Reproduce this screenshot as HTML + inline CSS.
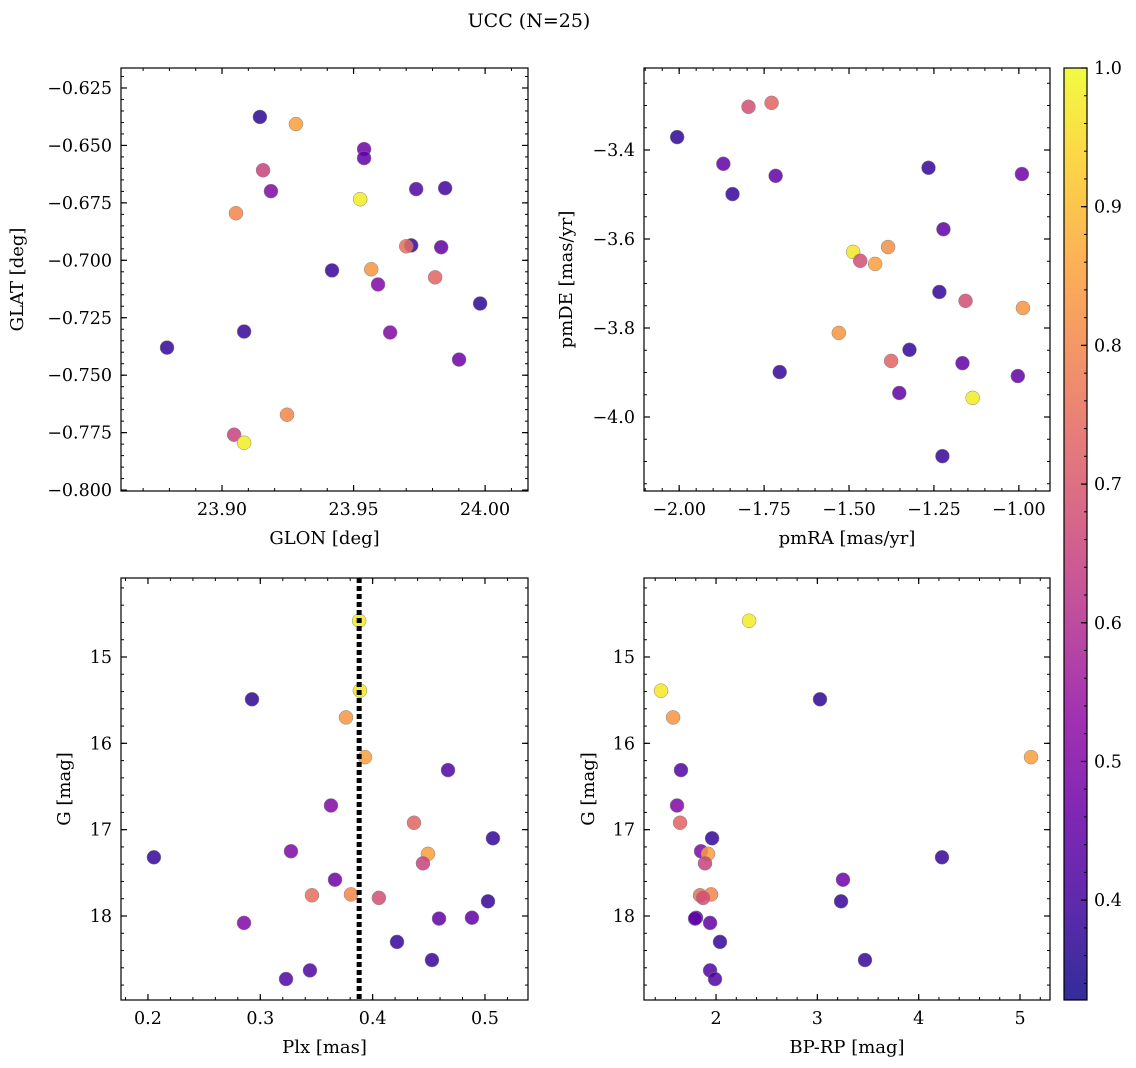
<!DOCTYPE html>
<html><head><meta charset="utf-8"><style>
body{margin:0;background:#fff;}
svg{display:block;font-family:"DejaVu Serif","Liberation Serif",serif;font-stretch:normal;}
</style></head><body>
<svg id="fig" width="1136" height="1068" viewBox="0 0 1136 1068">
<text x="529" y="27" font-size="19" text-anchor="middle">UCC (N=25)</text>
</svg>
<script>
// ---- data ----
const glon=[23.9144,23.9281,23.9156,23.9186,23.9053,23.9540,23.9540,23.9525,23.9738,23.9848,23.9719,23.9700,23.9833,23.9418,23.9567,23.9593,23.9810,23.9981,23.9084,23.9639,23.8791,23.9901,23.9247,23.9046,23.9084];
const glat=[-0.6376,-0.6407,-0.6608,-0.6699,-0.6795,-0.6516,-0.6555,-0.6734,-0.6690,-0.6686,-0.6935,-0.6939,-0.6943,-0.7044,-0.7039,-0.7105,-0.7074,-0.7188,-0.7310,-0.7314,-0.7380,-0.7432,-0.7672,-0.7759,-0.7794];
const probTL=[0.37,0.85,0.65,0.5,0.8,0.47,0.45,0.98,0.42,0.4,0.38,0.75,0.45,0.38,0.83,0.5,0.73,0.37,0.38,0.5,0.38,0.47,0.8,0.65,0.98];
const pmra=[-2.006,-1.796,-1.728,-1.870,-1.843,-1.716,-1.266,-0.991,-1.222,-1.488,-1.385,-1.467,-1.423,-1.234,-1.157,-0.988,-1.530,-1.322,-1.376,-1.704,-1.166,-1.003,-1.352,-1.136,-1.225];
const pmde=[-3.371,-3.303,-3.294,-3.431,-3.499,-3.458,-3.440,-3.454,-3.578,-3.629,-3.618,-3.649,-3.656,-3.719,-3.739,-3.755,-3.811,-3.849,-3.874,-3.899,-3.879,-3.908,-3.946,-3.957,-4.088];
const probTR=[0.37,0.68,0.73,0.45,0.38,0.45,0.38,0.47,0.45,0.97,0.82,0.68,0.85,0.38,0.68,0.83,0.83,0.38,0.73,0.38,0.45,0.45,0.45,0.98,0.38];
const plx=[0.388,0.2926,0.3887,0.3763,0.3932,0.4671,0.3629,0.4368,0.5071,0.2053,0.3273,0.4493,0.4448,0.3665,0.346,0.3807,0.4056,0.5027,0.2855,0.4591,0.4884,0.4217,0.4528,0.3442,0.3229];
const gmag=[14.58,15.49,15.39,15.70,16.16,16.31,16.72,16.92,17.10,17.32,17.25,17.28,17.39,17.58,17.76,17.75,17.79,17.83,18.08,18.03,18.02,18.30,18.51,18.63,18.73];
const probBL=[0.98,0.37,0.97,0.83,0.85,0.42,0.5,0.73,0.38,0.38,0.5,0.85,0.65,0.47,0.75,0.8,0.68,0.38,0.5,0.45,0.45,0.38,0.38,0.42,0.42];
const bprp=[2.326,1.457,1.576,3.026,5.109,1.654,1.615,1.645,1.961,1.852,1.921,1.891,4.230,3.253,1.842,1.951,1.872,3.234,1.803,1.793,1.941,2.039,3.470,1.941,1.990];
const gmag2=[14.58,15.39,15.70,15.49,16.16,16.31,16.72,16.92,17.10,17.25,17.28,17.39,17.32,17.58,17.76,17.75,17.79,17.83,18.02,18.03,18.08,18.30,18.51,18.63,18.73];
const probBR=[0.98,0.97,0.83,0.37,0.85,0.42,0.5,0.73,0.38,0.5,0.85,0.65,0.38,0.47,0.75,0.8,0.68,0.38,0.4,0.45,0.45,0.38,0.38,0.42,0.42];
const plxMedian=0.388;
const cbarMin=0.328, cbarMax=1.0;
const cbarTicks=[0.4,0.5,0.6,0.7,0.8,0.9,1.0];

const NS="http://www.w3.org/2000/svg";
const svg=document.getElementById('fig');
const stops=["#0d0887","#41049d","#6a00a8","#8f0da4","#b12a90","#cc4778","#e16462","#f2844b","#fca636","#fcce25","#f0f921"];
function hex(h){return [1,3,5].map(i=>parseInt(h.substr(i,2),16));}
function plasma(t){t=Math.max(0,Math.min(1,t));const f=t*10,i=Math.min(9,Math.floor(f)),r=f-i;const a=hex(stops[i]),b=hex(stops[i+1]);return "rgb("+a.map((v,k)=>Math.round(v+(b[k]-v)*r)).join(",")+")";}
function cm(v){return plasma((v-cbarMin)/(cbarMax-cbarMin));}
function el(tag,attrs,parent){const e=document.createElementNS(NS,tag);for(const k in attrs)e.setAttribute(k,attrs[k]);(parent||svg).appendChild(e);return e;}
function range(a,b,s){const r=[];for(let v=a;v<=b+s*1e-6;v+=s)r.push(+v.toFixed(6));return r;}
const TF=17.5, LF=18;

function panel(o){
  const g=el('g',{});
  
  
  const X=v=>o.x0+(v-o.xmin)/(o.xmax-o.xmin)*(o.x1-o.x0);
  const Y=o.yinv?(v=>o.y0+(v-o.ymin)/(o.ymax-o.ymin)*(o.y1-o.y0)):(v=>o.y1-(v-o.ymin)/(o.ymax-o.ymin)*(o.y1-o.y0));
  const inX=v=>v>=Math.min(o.xmin,o.xmax)-1e-9&&v<=Math.max(o.xmin,o.xmax)+1e-9;
  const inY=v=>v>=o.ymin-1e-9&&v<=o.ymax+1e-9;
  range(o.xmn[0],o.xmn[1],o.xmn[2]).filter(inX).forEach(v=>{const x=X(v);el('line',{x1:x,x2:x,y1:o.y1,y2:o.y1-3,stroke:'#000','stroke-width':1},g);el('line',{x1:x,x2:x,y1:o.y0,y2:o.y0+3,stroke:'#000','stroke-width':1},g);});
  range(o.ymn[0],o.ymn[1],o.ymn[2]).filter(inY).forEach(v=>{const y=Y(v);el('line',{x1:o.x0,x2:o.x0+3,y1:y,y2:y,stroke:'#000','stroke-width':1},g);el('line',{x1:o.x1,x2:o.x1-3,y1:y,y2:y,stroke:'#000','stroke-width':1},g);});
  o.xt.forEach((v,i)=>{const x=X(v);el('line',{x1:x,x2:x,y1:o.y1,y2:o.y1-6,stroke:'#000','stroke-width':1.2},g);el('line',{x1:x,x2:x,y1:o.y0,y2:o.y0+6,stroke:'#000','stroke-width':1.2},g);
    const t=el('text',{x:x,y:o.y1+24,'font-size':TF,'text-anchor':'middle'},g);t.textContent=o.xl[i];
    
    });
  o.yt.forEach((v,i)=>{const y=Y(v);el('line',{x1:o.x0,x2:o.x0+6,y1:y,y2:y,stroke:'#000','stroke-width':1.2},g);el('line',{x1:o.x1,x2:o.x1-6,y1:y,y2:y,stroke:'#000','stroke-width':1.2},g);
    const t=el('text',{x:o.x0-9,y:y+6,'font-size':TF,'text-anchor':'end'},g);t.textContent=o.yl[i];
    
    });
  o.xs.forEach((v,i)=>{const c=el('circle',{cx:X(v),cy:Y(o.ys[i]),r:7,fill:cm(o.c[i]),'fill-opacity':0.85,stroke:'#888','stroke-width':0.5},g);
    
    });
  if(o.vline!==undefined){const x=X(o.vline);const l=el('line',{x1:x,x2:x,y1:o.y0,y2:o.y1,stroke:'#000','stroke-width':5,'stroke-dasharray':'5,3'},g);
    
    }
  el('rect',{x:o.x0,y:o.y0,width:o.x1-o.x0,height:o.y1-o.y0,fill:'none',stroke:'#000','stroke-width':1.2},g);
  const xl=el('text',{x:(o.x0+o.x1)/2,y:o.y1+53,'font-size':LF,'text-anchor':'middle'},g);xl.textContent=o.xlab;
  
  
  const yx=o.ylx,yy=(o.y0+o.y1)/2;
  const yl=el('text',{x:yx,y:yy,'font-size':LF,'text-anchor':'middle',transform:`rotate(-90 ${yx} ${yy})`},g);yl.textContent=o.ylab;
  
  
}
panel({name:'glon-glat-panel',x0:121,x1:528,y0:68,y1:491,xmin:23.8616,xmax:24.0163,ymin:-0.8004,ymax:-0.6163,
  xt:[23.90,23.95,24.00],xl:['23.90','23.95','24.00'],xmn:[23.87,24.02,0.01],
  yt:[-0.625,-0.65,-0.675,-0.7,-0.725,-0.75,-0.775,-0.8],yl:['\u22120.625','\u22120.650','\u22120.675','\u22120.700','\u22120.725','\u22120.750','\u22120.775','\u22120.800'],ymn:[-0.8,-0.62,0.005],
  xs:glon,ys:glat,c:probTL,xlab:'GLON [deg]',ylab:'GLAT [deg]',ylx:23});
panel({name:'pm-panel',x0:644,x1:1050,y0:68,y1:491,xmin:-2.1036,xmax:-0.9083,ymin:-4.1663,ymax:-3.2157,
  xt:[-2,-1.75,-1.5,-1.25,-1],xl:['\u22122.00','\u22121.75','\u22121.50','\u22121.25','\u22121.00'],xmn:[-2.1,-0.9,0.05],
  yt:[-3.4,-3.6,-3.8,-4.0],yl:['\u22123.4','\u22123.6','\u22123.8','\u22124.0'],ymn:[-4.15,-3.25,0.05],
  xs:pmra,ys:pmde,c:probTR,xlab:'pmRA [mas/yr]',ylab:'pmDE [mas/yr]',ylx:572});
panel({name:'plx-g-panel',x0:121,x1:528,y0:578,y1:1000,xmin:0.176,xmax:0.5383,ymin:14.085,ymax:18.973,yinv:true,
  xt:[0.2,0.3,0.4,0.5],xl:['0.2','0.3','0.4','0.5'],xmn:[0.18,0.54,0.02],
  yt:[15,16,17,18],yl:['15','16','17','18'],ymn:[14.2,18.8,0.2],
  xs:plx,ys:gmag,c:probBL,vline:plxMedian,xlab:'Plx [mas]',ylab:'G [mag]',ylx:70});
panel({name:'cmd-panel',x0:644,x1:1050,y0:578,y1:1000,xmin:1.289,xmax:5.296,ymin:14.085,ymax:18.973,yinv:true,
  xt:[2,3,4,5],xl:['2','3','4','5'],xmn:[1.4,5.2,0.2],
  yt:[15,16,17,18],yl:['15','16','17','18'],ymn:[14.2,18.8,0.2],
  xs:bprp,ys:gmag2,c:probBR,xlab:'BP-RP [mag]',ylab:'G [mag]',ylx:594});
(function(){
  const x0=1064,x1=1087,y0=68,y1=1000;
  const g=el('g',{});
  
  
  const defs=el('defs',{},g);
  const lg=el('linearGradient',{id:'cbg',x1:0,y1:1,x2:0,y2:0},defs);
  for(let i=0;i<=20;i++){el('stop',{offset:i/20,'stop-color':plasma(i/20),'stop-opacity':0.85},lg);}
  el('rect',{x:x0,y:y0,width:x1-x0,height:y1-y0,fill:'url(#cbg)'},g);
  const Y=v=>y1-(v-cbarMin)/(cbarMax-cbarMin)*(y1-y0);
  range(0.34,1.0,0.02).forEach(v=>{el('line',{x1:x1,x2:x1-3,y1:Y(v),y2:Y(v),stroke:'#000'},g);});
  cbarTicks.forEach(v=>{const y=Y(v);el('line',{x1:x1,x2:x1-6,y1:y,y2:y,stroke:'#000','stroke-width':1.2},g);
    const t=el('text',{x:x1+7,y:y+6,'font-size':TF},g);t.textContent=v.toFixed(1);
    
    });
  el('rect',{x:x0,y:y0,width:x1-x0,height:y1-y0,fill:'none',stroke:'#000','stroke-width':1.2},g);
})();
</script>
</body></html>
